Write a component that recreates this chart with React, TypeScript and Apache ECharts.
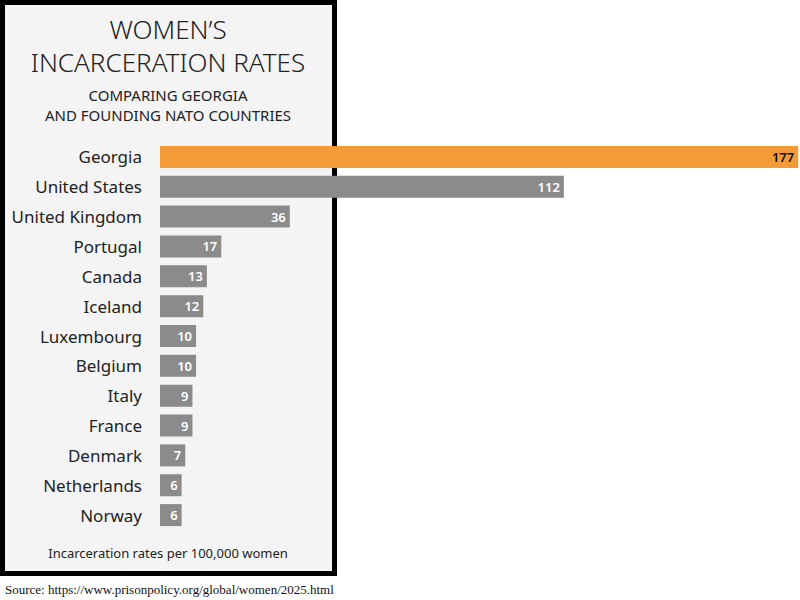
import React, { useEffect, useRef } from "react";
import * as echarts from "echarts";

const countries = [
  "Georgia",
  "United States",
  "United Kingdom",
  "Portugal",
  "Canada",
  "Iceland",
  "Luxembourg",
  "Belgium",
  "Italy",
  "France",
  "Denmark",
  "Netherlands",
  "Norway",
];
const rates = [177, 112, 36, 17, 13, 12, 10, 10, 9, 9, 7, 6, 6];
const highlight = "Georgia";

const titleLines = ["WOMEN\u2019S", "INCARCERATION RATES"];
const subtitleLines = ["COMPARING GEORGIA", "AND FOUNDING NATO COUNTRIES"];
const footnote = "Incarceration rates per 100,000 women";
const source = "Source: https://www.prisonpolicy.org/global/women/2025.html";

const FONT = "'Noto Sans', sans-serif";

export default function App() {
  const ref = useRef<HTMLDivElement>(null);
  useEffect(() => {
    document.body.style.margin = "0";
    if (!ref.current) return;
    const chart = echarts.init(ref.current, null, { renderer: "svg" });
    const centered = (text: string, y: number, fontSize: number, fontWeight: any = "normal") => ({
      type: "text",
      x: 168,
      y,
      style: {
        text,
        fontFamily: FONT,
        fontSize,
        fontWeight,
        fill: "#222",
        textAlign: "center",
        textVerticalAlign: "middle",
      },
    });
    chart.setOption({
      animation: false,
      backgroundColor: "#ffffff",
      graphic: [
        {
          type: "rect",
          z: -10,
          shape: { x: 2.5, y: 2.5, width: 332, height: 571 },
          style: { fill: "#f4f4f4", stroke: "#000000", lineWidth: 5 },
        },
        centered(titleLines[0], 29, 26, 300),
        centered(titleLines[1], 62, 26, 300),
        centered(subtitleLines[0], 95, 15),
        centered(subtitleLines[1], 115, 15),
        centered(footnote, 553, 13),
        {
          type: "text",
          x: 5,
          y: 589,
          style: {
            text: source,
            fontFamily: "'Liberation Serif', 'Times New Roman', serif",
            fontSize: 13,
            fill: "#111",
            textAlign: "left",
            textVerticalAlign: "middle",
          },
        },
      ],
      grid: { left: 160, top: 142, width: 640, height: 388, containLabel: false },
      xAxis: {
        type: "value",
        min: 0,
        max: 177.5,
        show: false,
      },
      yAxis: {
        type: "category",
        data: countries,
        inverse: true,
        axisLine: { show: false },
        axisTick: { show: false },
        axisLabel: {
          margin: 18,
          fontFamily: FONT,
          fontSize: 17,
          color: "#222",
        },
      },
      series: [
        {
          type: "bar",
          z: 5,
          barWidth: 22,
          data: countries.map((c, i) => ({
            value: rates[i],
            itemStyle: { color: c === highlight ? "#f29b38" : "#8b8b8b" },
            label: { color: c === highlight ? "#111" : "#ffffff" },
          })),
          label: {
            show: true,
            position: "insideRight",
            distance: 4,
            fontFamily: FONT,
            fontSize: 13,
            fontWeight: 600,
          },
        },
      ],
    });
    return () => chart.dispose();
  }, []);
  return <div ref={ref} style={{ width: 800, height: 600 }} />;
}
